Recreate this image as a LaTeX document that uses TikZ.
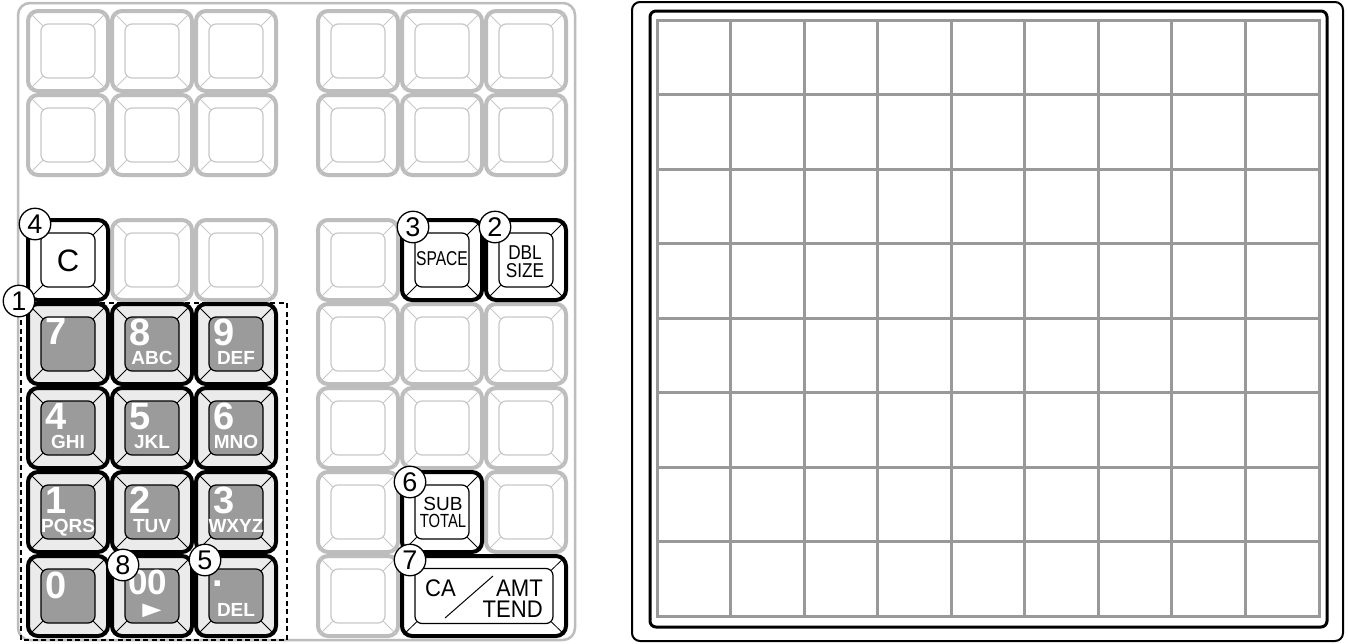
\documentclass[tikz,border=0pt]{standalone}
\usepackage{fontspec}
\setmainfont{Liberation Sans}
\newfontfamily\symfont{DejaVu Sans}
\usetikzlibrary{calc}
\definecolor{ink}{HTML}{000000}
\definecolor{keygray}{HTML}{BDBDBD}
\definecolor{linegray}{HTML}{C8C8C8}
\definecolor{capfill}{HTML}{EBEBEB}
\definecolor{capdark}{HTML}{9B9B9B}
\definecolor{gridgray}{HTML}{999999}
\tikzset{
  panelframe/.style={draw=keygray,line width=2.5pt,rounded corners=12pt},
  keyout/.style={draw=keygray,fill=white,line width=4pt,rounded corners=10pt,minimum width=80pt,minimum height=80pt,inner sep=0pt,outer sep=0pt},
  keyin/.style={draw=linegray,fill=white,line width=1.2pt,rounded corners=7pt,minimum width=54pt,minimum height=54pt,inner sep=0pt,outer sep=0pt},
  keydiag/.style={draw=linegray,line width=0.8pt,shorten <=-2.4pt,shorten >=2.5pt},
  inkkey/.style={draw=ink},
  numout/.style={draw=ink,fill=capfill},
  numin/.style={draw=ink,fill=capdark},
  digitlbl/.style={anchor=north west,inner sep=0pt,text=white,font=\fontsize{38}{38}\selectfont\bfseries},
  letterlbl/.style={anchor=base,inner sep=0pt,text=white,font=\fontsize{19}{19}\selectfont\bfseries},
  keylbl/.style={anchor=base,inner sep=0pt,text=ink},
  callout/.style={circle,draw=ink,fill=white,line width=1.3pt,minimum size=31.5pt,inner sep=0pt,font=\fontsize{27}{27}\selectfont},
  dashframe/.style={draw=ink,line width=1.1pt,dash pattern=on 5pt off 3.5pt},
  screenouter/.style={draw=ink,line width=2pt,rounded corners=8pt},
  screeninner/.style={draw=ink,line width=3pt,rounded corners=6pt},
  gridline/.style={draw=gridgray,line width=3pt}
}
% one key: name, centre, outer / inner / diagonal options
\newcommand{\keycap}[5]{%
  \node[keyout,#3] (#1) at (#2) {};
  \node[keyin,#4] (#1-in) at (#1) {};
  \foreach \cn in {north west,north east,south west,south east}
    \draw[keydiag,#5] (#1-in.\cn) -- (#1.\cn);
}

\begin{document}
\begin{tikzpicture}[x=1pt,y=-1pt]
  \fill[white] (0,0) rectangle (1348,643);
  \useasboundingbox (0,0) rectangle (1348,643);

  % keyboard
  \draw[panelframe] (18,3) rectangle (575,640);
  \foreach \n/\x/\y in {g11/68/51,g21/152/51,g31/236/51,g41/358/51,g51/442/51,g61/526/51,
                        g12/68/135,g22/152/135,g32/236/135,g42/358/135,g52/442/135,g62/526/135,
                        g23/152/260,g33/236/260,g43/358/260,
                        g44/358/344,g54/442/344,g64/526/344,
                        g45/358/428,g55/442/428,g65/526/428,
                        g46/358/512,g66/526/512,g47/358/596}
    {\keycap{\n}{\x,\y}{}{}{}}

  % function keys
  \keycap{clr}{68,260}{inkkey}{inkkey}{inkkey}
  \node[keylbl,font=\fontsize{31}{31}\selectfont] (clr-t) at ($(clr)+(0,11)$) {C};
  \keycap{spc}{442,260}{inkkey}{inkkey}{inkkey}
  \node[keylbl,font=\fontsize{20}{20}\selectfont] (spc-t) at ($(spc)+(0,5)$) {\scalebox{0.78}[1]{SPACE}};
  \keycap{dbl}{526,260}{inkkey}{inkkey}{inkkey}
  \node[keylbl,font=\fontsize{20}{20}\selectfont] (dbl-a) at ($(dbl)+(-1,-1)$) {\scalebox{0.86}[1]{DBL}};
  \node[keylbl,font=\fontsize{20}{20}\selectfont] (dbl-b) at ($(dbl)+(-1,17)$) {\scalebox{0.86}[1]{SIZE}};
  \keycap{sub}{442,512}{inkkey}{inkkey}{inkkey}
  \node[keylbl,font=\fontsize{19}{19}\selectfont] (sub-a) at ($(sub)+(1,-2)$) {SUB};
  \node[keylbl,font=\fontsize{19}{19}\selectfont] (sub-b) at ($(sub)+(1,15)$) {\scalebox{0.78}[1]{TOTAL}};
  \keycap{ca}{484,596}{inkkey,minimum width=164pt}{inkkey,minimum width=138pt,minimum height=55pt}{inkkey}
  \coordinate (ca-s) at ($(ca)+(-39,22)$);
  \coordinate (ca-e) at ($(ca)+(9,-20)$);
  \draw[ink,line width=1pt] (ca-s) -- (ca-e);
  \node[keylbl,anchor=base west,font=\fontsize{24}{24}\selectfont] (ca-a) at ($(ca)+(-59,0)$) {\scalebox{0.92}[1]{CA}};
  \node[keylbl,anchor=base east,font=\fontsize{24}{24}\selectfont] (ca-b) at ($(ca)+(59,0)$) {\scalebox{0.92}[1]{AMT}};
  \node[keylbl,anchor=base east,font=\fontsize{24}{24}\selectfont] (ca-c) at ($(ca)+(59,21)$) {\scalebox{0.92}[1]{TEND}};

  % numeric keys
  \foreach \n/\x/\y/\dg/\lt in {n8/152/344/8/ABC,n9/236/344/9/DEF,
                                n4/68/428/4/GHI,n5/152/428/5/JKL,n6/236/428/6/MNO,
                                n1/68/512/1/PQRS,n2/152/512/2/TUV,n3/236/512/3/WXYZ} {
    \keycap{\n}{\x,\y}{numout}{numin}{inkkey}
    \node[digitlbl] (\n-d) at ($(\n)+(-23,-25)$) {\dg};
    \node[letterlbl] (\n-l) at ($(\n)+(0,20.5)$) {\lt};
  }
  \keycap{n7}{68,344}{numout}{numin}{inkkey}
  \node[digitlbl] (n7-d) at ($(n7)+(-23,-26)$) {7};
  \keycap{n0}{68,596}{numout}{numin}{inkkey}
  \node[digitlbl] (n0-d) at ($(n0)+(-23,-24)$) {0};
  \keycap{n00}{152,596}{numout}{numin}{inkkey}
  \node[digitlbl,font=\fontsize{35}{35}\selectfont\bfseries] (n00-d) at ($(n00)+(-24,-26)$) {00};
  \node[text=white,inner sep=0pt,font=\fontsize{20}{20}\symfont] (n00-l) at ($(n00)+(0,15)$) {\scalebox{1.25}[0.9]{▶}};
  \keycap{ndot}{236,596}{numout}{numin}{inkkey}
  \node[text=white,inner sep=0pt,font=\fontsize{38}{38}\selectfont\bfseries] (ndot-d) at ($(ndot)+(-18,-12)$) {.};
  \node[letterlbl] (ndot-l) at ($(ndot)+(0,20.5)$) {DEL};

  % numeric block and callouts
  \draw[dashframe] (21,303) rectangle (287,640);
  \node[callout] (c1) at (19,301) {1};
  \node[callout] (c2) at (495,227) {2};
  \node[callout] (c3) at (413,227) {3};
  \node[callout] (c4) at (35,224) {4};
  \node[callout] (c5) at (205,560) {5};
  \node[callout] (c6) at (410,482) {6};
  \node[callout] (c7) at (410,560) {7};
  \node[callout] (c8) at (123,565) {8};

  % display grid
  \draw[screenouter] (632,2) rectangle (1343,641);
  \draw[screeninner] (650,11) rectangle (1327,627);
  \foreach \i in {1,...,8}
    \draw[gridline] ({657+73.56*\i},20) -- ({657+73.56*\i},616);
  \foreach \j in {1,...,7}
    \draw[gridline] (657,{20+74.5*\j}) -- (1319,{20+74.5*\j});
  \draw[gridline] (657,20) rectangle (1319,616);
\end{tikzpicture}
\end{document}
